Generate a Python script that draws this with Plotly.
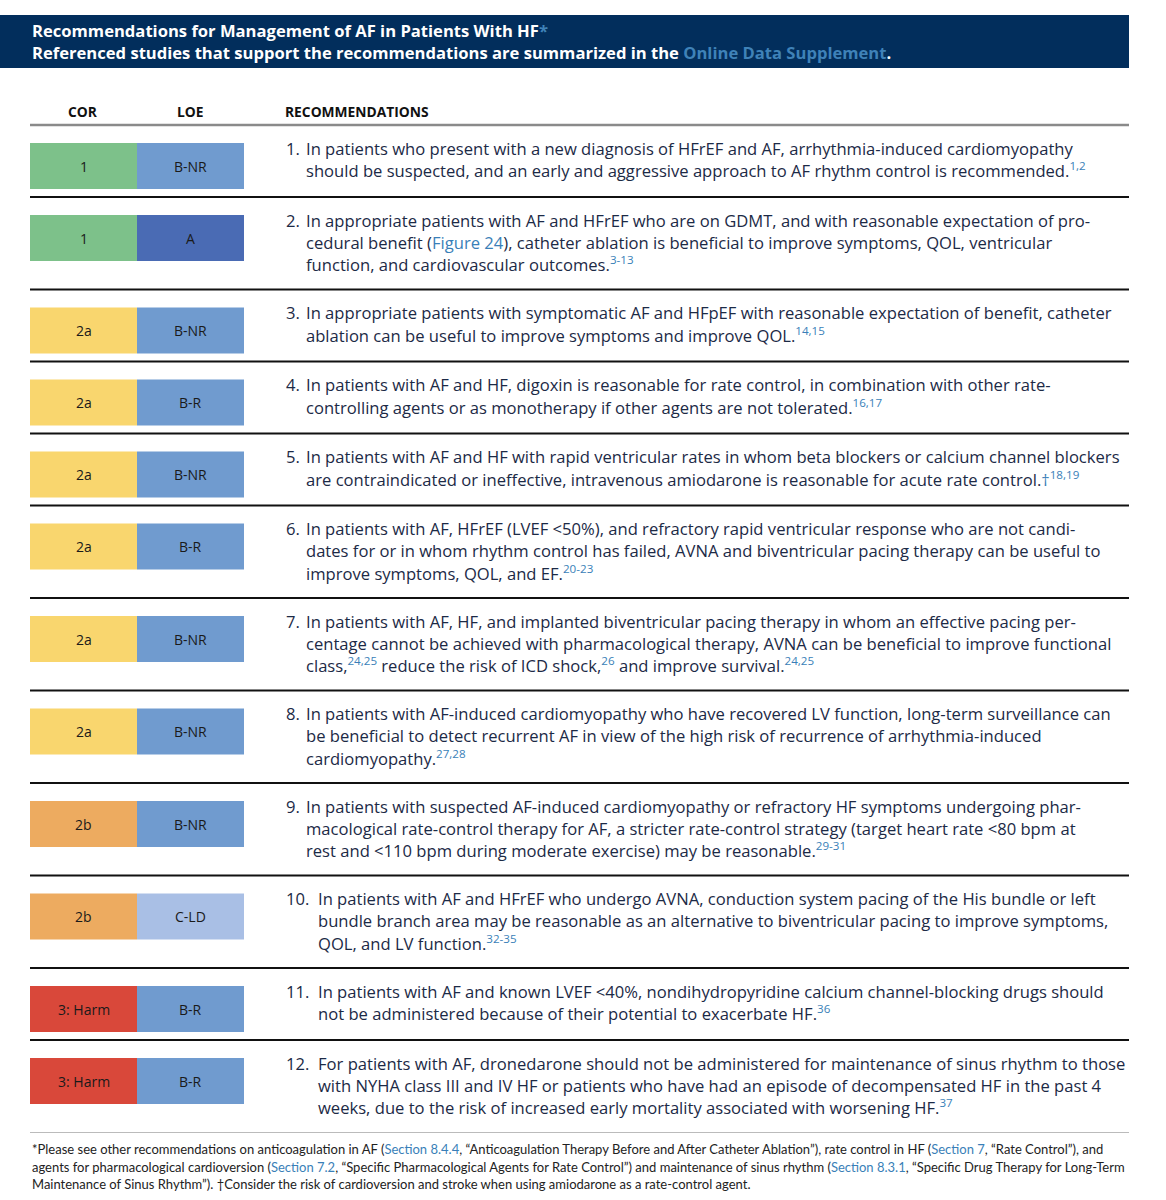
import plotly.graph_objects as go

# table content
cor = ["1", "1", "2a", "2a", "2a", "2a", "2a", "2a", "2b", "2b", "3: Harm", "3: Harm"]
loe = ["B-NR", "A", "B-NR", "B-R", "B-NR", "B-R", "B-NR", "B-NR", "B-NR", "C-LD", "B-R", "B-R"]

rec_lines = [
    ["In patients who present with a new diagnosis of HFrEF and AF, arrhythmia-induced cardiomyopathy",
     "should be suspected, and an early and aggressive approach to AF rhythm control is recommended.[1,2]"],
    ["In appropriate patients with AF and HFrEF who are on GDMT, and with reasonable expectation of pro-",
     "cedural benefit ({Figure 24}), catheter ablation is beneficial to improve symptoms, QOL, ventricular",
     "function, and cardiovascular outcomes.[3-13]"],
    ["In appropriate patients with symptomatic AF and HFpEF with reasonable expectation of benefit, catheter",
     "ablation can be useful to improve symptoms and improve QOL.[14,15]"],
    ["In patients with AF and HF, digoxin is reasonable for rate control, in combination with other rate-",
     "controlling agents or as monotherapy if other agents are not tolerated.[16,17]"],
    ["In patients with AF and HF with rapid ventricular rates in whom beta blockers or calcium channel blockers",
     "are contraindicated or ineffective, intravenous amiodarone is reasonable for acute rate control.{†}[18,19]"],
    ["In patients with AF, HFrEF (LVEF &lt;50%), and refractory rapid ventricular response who are not candi-",
     "dates for or in whom rhythm control has failed, AVNA and biventricular pacing therapy can be useful to",
     "improve symptoms, QOL, and EF.[20-23]"],
    ["In patients with AF, HF, and implanted biventricular pacing therapy in whom an effective pacing per-",
     "centage cannot be achieved with pharmacological therapy, AVNA can be beneficial to improve functional",
     "class,[24,25] reduce the risk of ICD shock,[26] and improve survival.[24,25]"],
    ["In patients with AF-induced cardiomyopathy who have recovered LV function, long-term surveillance can",
     "be beneficial to detect recurrent AF in view of the high risk of recurrence of arrhythmia-induced",
     "cardiomyopathy.[27,28]"],
    ["In patients with suspected AF-induced cardiomyopathy or refractory HF symptoms undergoing phar-",
     "macological rate-control therapy for AF, a stricter rate-control strategy (target heart rate &lt;80 bpm at",
     "rest and &lt;110 bpm during moderate exercise) may be reasonable.[29-31]"],
    ["In patients with AF and HFrEF who undergo AVNA, conduction system pacing of the His bundle or left",
     "bundle branch area may be reasonable as an alternative to biventricular pacing to improve symptoms,",
     "QOL, and LV function.[32-35]"],
    ["In patients with AF and known LVEF &lt;40%, nondihydropyridine calcium channel-blocking drugs should",
     "not be administered because of their potential to exacerbate HF.[36]"],
    ["For patients with AF, dronedarone should not be administered for maintenance of sinus rhythm to those",
     "with NYHA class III and IV HF or patients who have had an episode of decompensated HF in the past 4",
     "weeks, due to the risk of increased early mortality associated with worsening HF.[37]"],
]

footnote_lines = [
    "*Please see other recommendations on anticoagulation in AF ({Section 8.4.4}, “Anticoagulation Therapy Before and After Catheter Ablation”), rate control in HF ({Section 7}, “Rate Control”), and",
    "agents for pharmacological cardioversion ({Section 7.2}, “Specific Pharmacological Agents for Rate Control”) and maintenance of sinus rhythm ({Section 8.3.1}, “Specific Drug Therapy for Long-Term",
    "Maintenance of Sinus Rhythm”). †Consider the risk of cardioversion and stroke when using amiodarone as a rate-control agent.",
]

cor_colors = {"1": "#7dc18a", "2a": "#f9d66e", "2b": "#edab60", "3: Harm": "#d9483a"}
loe_colors = {"A": "#4a6bb4", "B-NR": "#709bcf", "B-R": "#709bcf", "C-LD": "#a9bfe5"}

LINK = "#3a7fb8"
TEXT = "#1c2a46"
FONT = "Open Sans"
BODY = 16.6


def markup(s, link=LINK):
    # [..] -> blue superscript, {..} -> blue inline text
    s = s.replace("[", "<sup><span style='color:%s'>" % link).replace("]", "</span></sup>")
    s = s.replace("{", "<span style='color:%s'>" % link).replace("}", "</span>")
    return s


fig = go.Figure()
shapes = []
annotations = []

# header band
shapes.append(dict(type="rect", x0=0, x1=1129, y0=15, y1=68, fillcolor="#022e5c", line_width=0, layer="below"))
annotations.append(dict(x=30, y=30, text="Recommendations for Management of AF in Patients With HF<span style='color:#3f82b8'>*</span>",
                        font=dict(family=FONT, size=16.6, color="white", weight="bold")))
annotations.append(dict(x=30, y=52, text="Referenced studies that support the recommendations are summarized in the <span style='color:#3f82b8'>Online Data Supplement</span>.",
                        font=dict(family=FONT, size=16.6, color="white", weight="bold")))

# column headers
col_font = dict(family=FONT, size=13.8, color="#111111", weight="bold")
annotations.append(dict(x=83, y=111, text="COR", xanchor="center", font=col_font))
annotations.append(dict(x=190, y=111, text="LOE", xanchor="center", font=col_font))
annotations.append(dict(x=283, y=111, text="RECOMMENDATIONS", font=col_font))
shapes.append(dict(type="line", x0=30, x1=1129, y0=125, y1=125, line=dict(color="#8a8a8a", width=2.5)))

row_h = {2: 72, 3: 92.5}
top = 125
for i, lines in enumerate(rec_lines):
    n = len(lines)
    h = row_h[n]
    # COR / LOE boxes
    shapes.append(dict(type="rect", x0=30, x1=137, y0=top + 18, y1=top + 64,
                       fillcolor=cor_colors[cor[i]], line_width=0))
    shapes.append(dict(type="rect", x0=137, x1=244, y0=top + 18, y1=top + 64,
                       fillcolor=loe_colors[loe[i]], line_width=0))
    annotations.append(dict(x=83.5, y=top + 41, text=cor[i], xanchor="center",
                            font=dict(family=FONT, size=14, color="#1a1a1a")))
    annotations.append(dict(x=190.5, y=top + 41, text=loe[i], xanchor="center",
                            font=dict(family=FONT, size=14, color="#1a1a1a")))
    # number + text lines
    num = "%d." % (i + 1)
    tx = 304 if i < 9 else 316
    annotations.append(dict(x=284, y=top + 23, text=num, font=dict(family=FONT, size=BODY, color=TEXT)))
    for k, ln in enumerate(lines):
        annotations.append(dict(x=tx, y=top + 23 + 22 * k, text=markup(ln),
                                font=dict(family=FONT, size=BODY, color=TEXT)))
    top += h
    if i < len(rec_lines) - 1:
        shapes.append(dict(type="line", x0=30, x1=1129, y0=top, y1=top, line=dict(color="#111111", width=1.8)))
    else:
        shapes.append(dict(type="line", x0=30, x1=1129, y0=top, y1=top, line=dict(color="#bbbbbb", width=1)))

# footnote
for k, ln in enumerate(footnote_lines):
    annotations.append(dict(x=30, y=1149 + 17.5 * k, text=markup(ln),
                            font=dict(family="Lato", size=13.0, color="#222222")))

for a in annotations:
    a.setdefault("xanchor", "left")
    a["yanchor"] = "middle"
    a["showarrow"] = False
    a["xref"] = "x"
    a["yref"] = "y"

fig.update_layout(
    width=1166, height=1200,
    margin=dict(l=0, r=0, t=0, b=0),
    paper_bgcolor="white", plot_bgcolor="white",
    xaxis=dict(range=[0, 1166], visible=False, fixedrange=True),
    yaxis=dict(range=[1200, 0], visible=False, fixedrange=True),
    shapes=shapes, annotations=annotations,
    showlegend=False,
)

fig.write_html("out.html", config={"displayModeBar": False},
               post_script="document.body.style.margin='0';")
